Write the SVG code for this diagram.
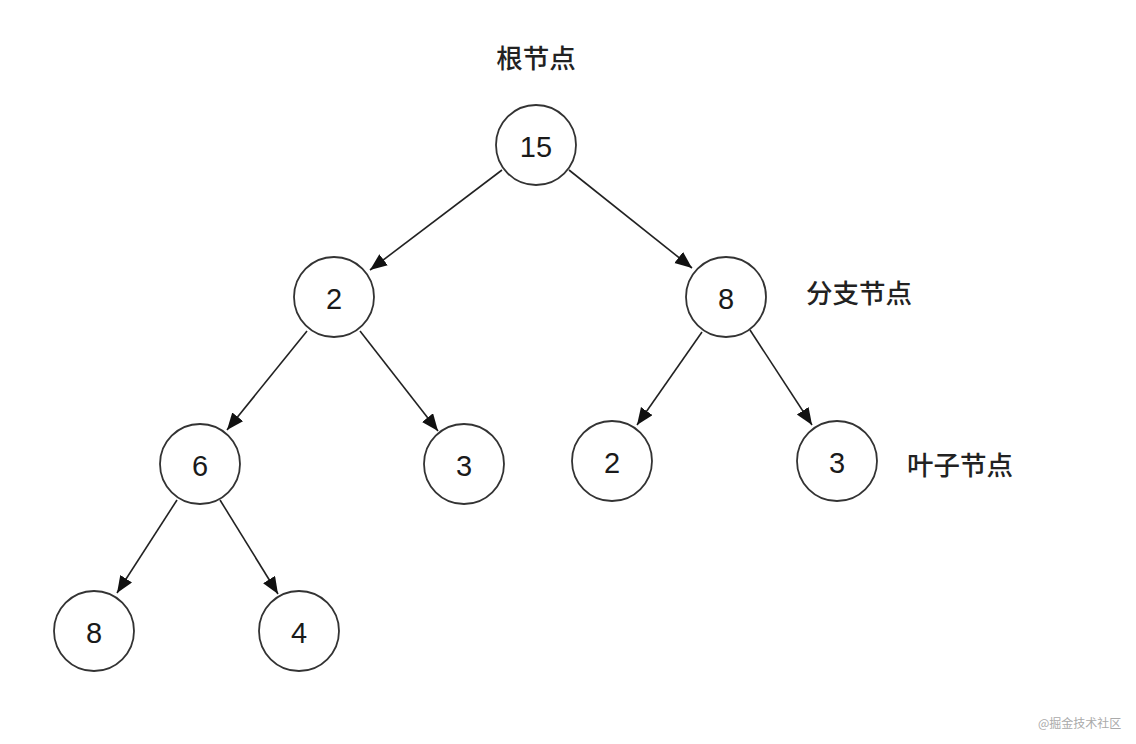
<svg xmlns="http://www.w3.org/2000/svg" width="1136" height="744" viewBox="0 0 1136 744">
<defs>
<marker id="arr" markerUnits="userSpaceOnUse" markerWidth="20" markerHeight="16" refX="17" refY="7" orient="auto">
<path d="M0,0 L17,7 L0,14 z" fill="#111"/>
</marker>
<style>
.n circle{fill:#fff;stroke:#333;stroke-width:1.8}
.n text{font-family:"Liberation Sans",Arial,sans-serif;font-size:29px;fill:#1a1a1a;text-anchor:middle;dominant-baseline:central}
.e line{stroke:#222;stroke-width:1.6;marker-end:url(#arr)}
.lbl{font-family:"Noto Sans CJK SC",sans-serif;font-size:26.5px;font-weight:500;fill:#222;dominant-baseline:central}
.wm{font-family:"Noto Sans CJK SC",sans-serif;font-size:12px;fill:#aaa;dominant-baseline:central}
</style>
</defs>
<rect width="1136" height="744" fill="#fff"/>
<g id="connectors" class="e">
<line x1="502" y1="170" x2="370" y2="270"/>
<line x1="569" y1="170" x2="692" y2="268"/>
<line x1="307" y1="331" x2="227" y2="430"/>
<line x1="360" y1="331" x2="438" y2="431"/>
<line x1="702" y1="332" x2="637" y2="425"/>
<line x1="750" y1="330" x2="812" y2="425"/>
<line x1="177" y1="500" x2="117" y2="593"/>
<line x1="220" y1="500" x2="278" y2="594"/>
</g>
<g id="n15" class="n"><circle cx="536" cy="145" r="40"/><text x="536" y="147">15</text></g>
<g id="n2a" class="n"><circle cx="334" cy="297" r="40"/><text x="334" y="299">2</text></g>
<g id="n8a" class="n"><circle cx="726" cy="297" r="40"/><text x="726" y="299">8</text></g>
<g id="n6" class="n"><circle cx="200" cy="464" r="40"/><text x="200" y="466">6</text></g>
<g id="n3a" class="n"><circle cx="464" cy="464" r="40"/><text x="464" y="466">3</text></g>
<g id="n2b" class="n"><circle cx="612" cy="461" r="40"/><text x="612" y="463">2</text></g>
<g id="n3b" class="n"><circle cx="837" cy="461" r="40"/><text x="837" y="463">3</text></g>
<g id="n8b" class="n"><circle cx="94" cy="631" r="40"/><text x="94" y="633">8</text></g>
<g id="n4" class="n"><circle cx="299" cy="631" r="40"/><text x="299" y="633">4</text></g>
<g id="labels">
<text class="lbl" x="536" y="56" text-anchor="middle">根节点</text>
<text class="lbl" x="806" y="291">分支节点</text>
<text class="lbl" x="907" y="463">叶子节点</text>
<text class="wm" x="1038" y="722">@掘金技术社区</text>
</g>
</svg>
